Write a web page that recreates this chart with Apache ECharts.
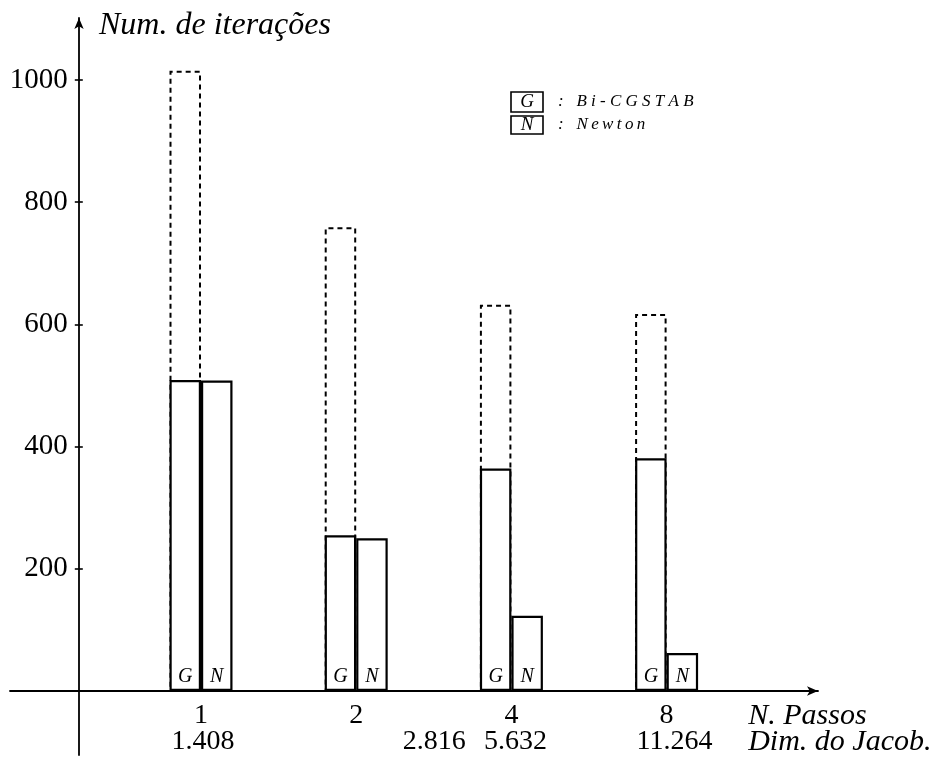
<!DOCTYPE html>
<html><head><meta charset="utf-8">
<script src="https://cdn.jsdelivr.net/npm/echarts@6/dist/echarts.min.js"></script>
<style>html,body{margin:0;padding:0;background:#fff}#c{width:945px;height:771px}</style>
</head><body><div id="c"></div>
<script>
// ---- data ----
const passos = ['1', '2', '4', '8'];
const dims = ['1.408', '2.816', '5.632', '11.264'];
const gTotal = [1015, 759, 632, 617];   // dashed outline (Bi-CGSTAB)
const gSolid = [509, 255, 364, 381];    // G bars
const nSolid = [508, 250, 123, 62];     // N bars
const yTicks = [200, 400, 600, 800, 1000];
const barLetters = ['G', 'N'];
const legendNames = ['Bi-CGSTAB', 'Newton'];
const yTitle = 'Num. de iterações';
const xTitles = ['N. Passos', 'Dim. do Jacob.'];

// ---- layout only ----
const dimShift = [2, 78, 4, 8];
const SERIF = "'Liberation Serif', 'Times New Roman', serif";
const numStyle = { fontFamily: SERIF, fontSize: 28, color: '#000' };
const itStyle = { fontFamily: SERIF, fontStyle: 'italic', fontSize: 30, color: '#000' };

const rich = { a: Object.assign({ lineHeight: 26 }, numStyle) };
dims.forEach((d, i) => {
  const s = dimShift[i];
  rich['b' + i] = Object.assign({ lineHeight: 26,
    padding: s >= 0 ? [0, 0, 0, 2 * s] : [0, -2 * s, 0, 0] }, numStyle);
});

const chart = echarts.init(document.getElementById('c'), null, { renderer: 'canvas' });
const barBase = {
  type: 'bar', barWidth: 31.5, barGap: '0%',
  itemStyle: { color: '#fff', borderColor: '#000', borderWidth: 2.2 },
  label: { show: true, position: 'insideBottom', distance: 4,
    fontFamily: SERIF, fontStyle: 'italic', fontSize: 20, color: '#000' },
  z: 3, silent: true, animation: false
};

chart.setOption({
  animation: false,
  backgroundColor: '#fff',
  title: { text: yTitle, left: 94, top: 5,
    textStyle: Object.assign({ fontWeight: 'normal' }, itStyle, { fontSize: 32 }) },
  grid: [
    { left: 123.4, right: 945 - 744.2, top: 18.9, bottom: 80 },
    { left: 10, right: 127, top: 18, bottom: 16 }
  ],
  xAxis: [
    { type: 'category', gridIndex: 0, data: passos,
      axisLine: { show: false }, axisTick: { show: false },
      axisLabel: { interval: 0, margin: 12,
        formatter: (v, i) => '{a|' + v + '}\n{b' + i + '|' + dims[i] + '}', rich: rich },
      name: '{a|' + xTitles[0] + '}\n{b|' + xTitles[1] + '}',
      nameLocation: 'end', nameGap: 4,
      nameTextStyle: { align: 'left', verticalAlign: 'top', padding: [12, 0, 0, 0],
        rich: { a: Object.assign({ lineHeight: 26 }, itStyle),
                b: Object.assign({ lineHeight: 26 }, itStyle) } } },
    { type: 'category', gridIndex: 0, data: passos, show: false },
    { type: 'value', gridIndex: 1, min: -69, max: 739,
      axisLine: { show: true, onZero: true, symbol: ['none', 'arrow'], symbolSize: [7, 11],
        lineStyle: { color: '#000', width: 1.8 } },
      axisTick: { show: false }, axisLabel: { show: false }, splitLine: { show: false } }
  ],
  yAxis: [
    { type: 'value', gridIndex: 0, min: 0, max: 1100, interval: 200, position: 'left', offset: 44.6,
      axisLine: { show: false },
      axisTick: { show: true, length: 4, customValues: yTicks, lineStyle: { color: '#000', width: 1.6 } },
      axisLabel: { show: true, margin: 11, customValues: yTicks, formatter: v => String(v),
        fontFamily: SERIF, fontSize: 29, color: '#000' },
      splitLine: { show: false } },
    { type: 'value', gridIndex: 0, min: 0, max: 1100, interval: 200, position: 'left', offset: 44.6,
      axisLine: { show: false },
      axisTick: { show: true, inside: true, length: 4, customValues: yTicks, lineStyle: { color: '#000', width: 1.6 } },
      axisLabel: { show: false }, splitLine: { show: false } },
    { type: 'value', gridIndex: 1, min: -64, max: 673,
      axisLine: { show: true, onZero: true, symbol: ['none', 'arrow'], symbolSize: [7, 11],
        lineStyle: { color: '#000', width: 1.8 } },
      axisTick: { show: false }, axisLabel: { show: false }, splitLine: { show: false } }
  ],
  series: [
    { type: 'bar', name: 'G-total', xAxisIndex: 1, yAxisIndex: 0, data: gTotal,
      barWidth: 31.5, barGap: '0%', z: 1, silent: true,
      itemStyle: { color: 'rgba(0,0,0,0)', borderColor: '#000', borderWidth: 2, borderType: [5, 4] } },
    { type: 'bar', name: 'slot', xAxisIndex: 1, yAxisIndex: 0, data: [], barWidth: 31.5 },
    Object.assign({}, barBase, { name: legendNames[0], xAxisIndex: 0, yAxisIndex: 0, data: gSolid,
      label: Object.assign({}, barBase.label, { formatter: barLetters[0] }) }),
    Object.assign({}, barBase, { name: legendNames[1], xAxisIndex: 0, yAxisIndex: 0, data: nSolid,
      label: Object.assign({}, barBase.label, { formatter: barLetters[1] }) })
  ],
  graphic: [
    { type: 'rect', shape: { x: 511, y: 92, width: 32, height: 20 },
      style: { fill: 'none', stroke: '#000', lineWidth: 1.6 } },
    { type: 'text', x: 527, y: 102, style: { text: barLetters[0], align: 'center', verticalAlign: 'middle',
      fontFamily: SERIF, fontStyle: 'italic', fontSize: 19, fill: '#000' } },
    { type: 'text', x: 558, y: 102, style: { text: ':   ' + legendNames[0].split('').join(' '),
      verticalAlign: 'middle', fontFamily: SERIF, fontStyle: 'italic', fontSize: 17, fill: '#000' } },
    { type: 'rect', shape: { x: 511, y: 116, width: 32, height: 18 },
      style: { fill: 'none', stroke: '#000', lineWidth: 1.6 } },
    { type: 'text', x: 527, y: 125, style: { text: barLetters[1], align: 'center', verticalAlign: 'middle',
      fontFamily: SERIF, fontStyle: 'italic', fontSize: 19, fill: '#000' } },
    { type: 'text', x: 558, y: 125, style: { text: ':   ' + legendNames[1].split('').join('\u2009'),
      verticalAlign: 'middle', fontFamily: SERIF, fontStyle: 'italic', fontSize: 17, fill: '#000' } }
  ]
});
</script></body></html>
